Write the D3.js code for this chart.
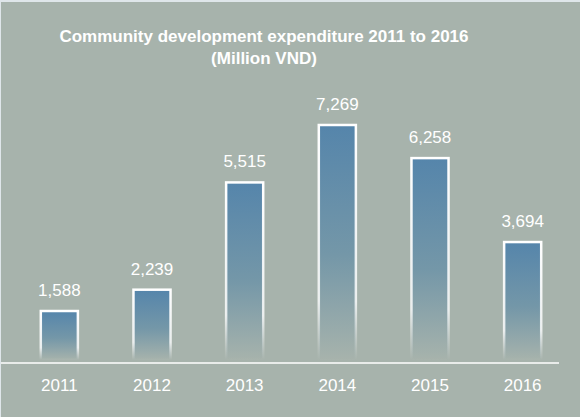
<!DOCTYPE html>
<html>
<head>
<meta charset="utf-8">
<script src="https://cdn.jsdelivr.net/npm/d3@7"></script>
<style>
  body { margin: 0; background: #dfe6ea; }
  svg { display: block; }
</style>
</head>
<body>
<svg width="580" height="417"></svg>
<script>
const svg = d3.select('svg');
const width = +svg.attr('width');
const height = +svg.attr('height');

// data
const years = ['2011', '2012', '2013', '2014', '2015', '2016'];
const values = [1588, 2239, 5515, 7269, 6258, 3694];
const titleLines = ['Community development expenditure 2011 to 2016', '(Million VND)'];

const data = years.map((y, i) => ({ year: y, value: values[i] }));

const bg = '#a7b3ac';
const baseY = 363;
const font = 'Liberation Sans, Arial, sans-serif';

// panel
svg.append('rect')
  .attr('x', 1).attr('y', 2)
  .attr('width', width - 1).attr('height', height - 2)
  .attr('fill', bg);

const defs = svg.append('defs');
const fillGrad = defs.append('linearGradient')
  .attr('id', 'barFill')
  .attr('x1', 0).attr('y1', 0).attr('x2', 0).attr('y2', 1);
fillGrad.append('stop').attr('offset', '0%').attr('stop-color', '#5585ab');
fillGrad.append('stop').attr('offset', '55%').attr('stop-color', '#7497a8');
fillGrad.append('stop').attr('offset', '100%').attr('stop-color', bg);

const strokeGrad = defs.append('linearGradient')
  .attr('id', 'barStroke')
  .attr('x1', 0).attr('y1', 0).attr('x2', 0).attr('y2', 1);
strokeGrad.append('stop').attr('offset', '0%').attr('stop-color', '#ffffff').attr('stop-opacity', 1);
strokeGrad.append('stop').attr('offset', '75%').attr('stop-color', '#ffffff').attr('stop-opacity', 0.8);
strokeGrad.append('stop').attr('offset', '100%').attr('stop-color', '#ffffff').attr('stop-opacity', 0);

const xScale = d3.scaleBand()
  .domain(years)
  .range([13, 569])
  .paddingInner(0.6)
  .paddingOuter(0.3);

const yScale = d3.scaleLinear()
  .domain([0, 7269])
  .range([baseY, 125]);

const g = svg.append('g');

g.selectAll('rect.bar').data(data)
  .enter().append('rect')
    .attr('class', 'bar')
    .attr('x', d => xScale(d.year))
    .attr('y', d => yScale(d.value))
    .attr('width', xScale.bandwidth())
    .attr('height', d => baseY - 3 - yScale(d.value))
    .attr('fill', 'url(#barFill)')
    .attr('stroke', 'url(#barStroke)')
    .attr('stroke-width', 2.5);

g.selectAll('text.val').data(data)
  .enter().append('text')
    .attr('class', 'val')
    .attr('x', d => xScale(d.year) + xScale.bandwidth() / 2)
    .attr('y', d => yScale(d.value) - 15)
    .attr('text-anchor', 'middle')
    .attr('fill', '#ffffff')
    .style('font-family', font)
    .style('font-size', '17px')
    .text(d => d3.format(',')(d.value));

// x axis
const xAxis = d3.axisBottom(xScale).tickSize(0).tickPadding(16);
const axisG = g.append('g')
  .attr('transform', `translate(0,${baseY})`)
  .call(xAxis);
axisG.select('.domain').remove();
axisG.selectAll('text')
  .attr('fill', '#ffffff')
  .style('font-family', font)
  .style('font-size', '17px');

g.append('line')
  .attr('x1', 1).attr('x2', 559)
  .attr('y1', baseY).attr('y2', baseY)
  .attr('stroke', '#ffffff')
  .attr('stroke-width', 1.5);

// title
svg.append('text')
  .attr('text-anchor', 'middle')
  .attr('fill', '#ffffff')
  .style('font-family', font)
  .style('font-size', '17px')
  .style('font-weight', 'bold')
  .selectAll('tspan').data(titleLines)
  .enter().append('tspan')
    .attr('x', 264)
    .attr('y', (d, i) => 42 + i * 22)
    .text(d => d);
</script>
</body>
</html>
